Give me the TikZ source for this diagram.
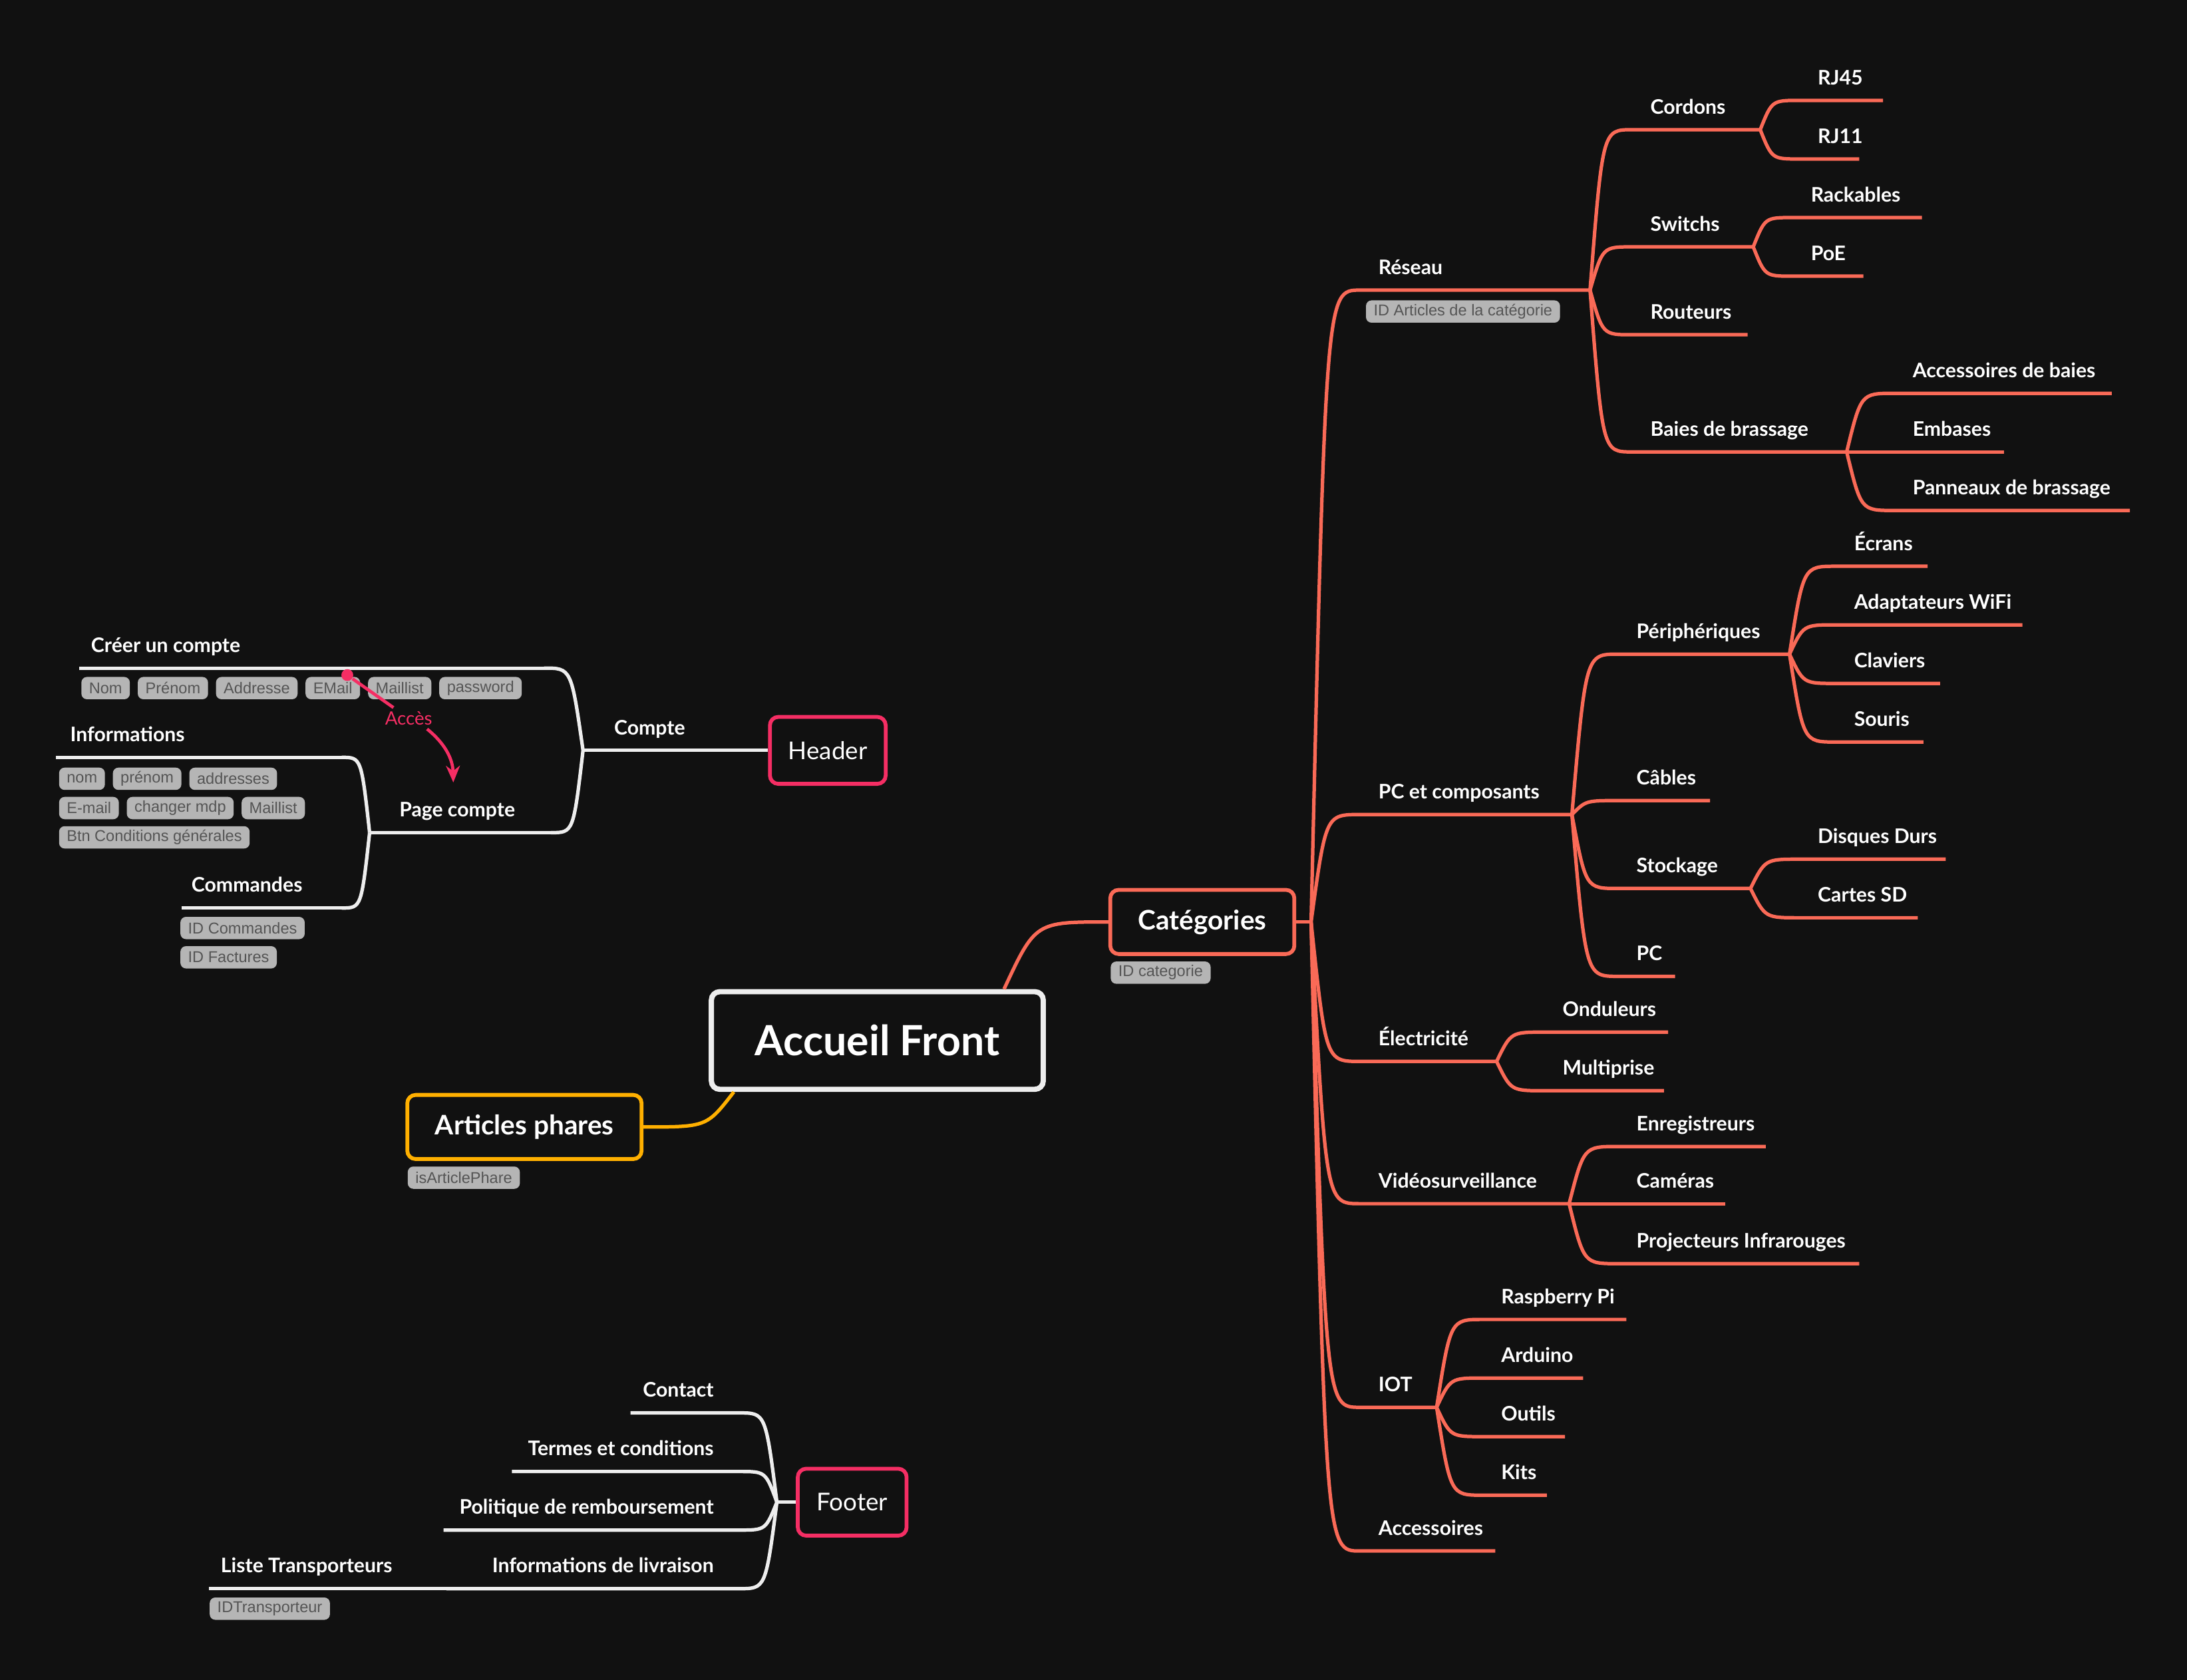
\documentclass[tikz,border=0pt]{standalone}
\usepackage{fontspec}
\setmainfont{Lato}
\newfontfamily\tagfamily{Liberation Sans}
\usetikzlibrary{positioning,arrows.meta,calc}

\definecolor{bg}{HTML}{111111}
\definecolor{coral}{HTML}{FA6A57}
\definecolor{amber}{HTML}{FFB000}
\definecolor{rose}{HTML}{F52E64}
\definecolor{chalk}{HTML}{EEEEEE}
\definecolor{tagfill}{HTML}{B5B5B5}
\definecolor{tagtext}{HTML}{555555}

\tikzset{
  topic/.style={anchor=south west, inner xsep=0.26cm, inner ysep=0pt, text depth=0.22cm, text=white, font=\fontsize{8.2}{10}\selectfont\bfseries},
  topicR/.style={topic, anchor=south east, inner xsep=0.36cm},
  tagbox/.style={anchor=north west, fill=tagfill, text=tagtext, rounded corners=0.08cm, inner xsep=0.11cm, inner ysep=0pt, minimum height=0.32cm, font=\tagfamily\fontsize{6.4}{7}\selectfont},
  topicbox/.style={draw, fill=bg, text=white, rounded corners=0.12cm, line width=0.055cm, inner sep=0pt},
  branch/.style={to path={.. controls ($(\tikztostart |- \tikztotarget)!0.3!(\tikztotarget)$) .. (\tikztotarget)}},
  redline/.style={draw=coral, line width=0.05cm},
  amberline/.style={draw=amber, line width=0.05cm},
  whiteline/.style={draw=chalk, line width=0.05cm},
  roseline/.style={draw=rose, line width=0.045cm},
}

\begin{document}
\begin{tikzpicture}[x=0.02cm, y=-0.02cm]
\path[use as bounding box, fill=bg] (0,0) rectangle (1568,1204.5);

% main topics
\node[topicbox, draw=chalk, line width=0.075cm, minimum width=4.76cm, minimum height=1.4cm, font=\fontsize{17}{20}\selectfont\bfseries] (accueil) at (629,746) {Accueil Front};
\node[topicbox, draw=coral, minimum width=2.64cm, minimum height=0.92cm, font=\fontsize{11}{13}\selectfont\bfseries] (categories) at (862,661) {Catégories};
\node[tagbox] (idcat) at (796,689) {ID categorie};
\node[topicbox, draw=amber, minimum width=3.36cm, minimum height=0.92cm, font=\fontsize{11}{13}\selectfont\bfseries] (articles) at (376,808) {Articles phares};
\node[tagbox] (isphare) at (292,836) {isArticlePhare};
\node[topicbox, draw=rose, minimum width=1.66cm, minimum height=0.96cm, font=\fontsize{10}{12}\selectfont] (header) at (593.5,538) {Header};
\node[topicbox, draw=rose, minimum width=1.56cm, minimum height=0.96cm, font=\fontsize{10}{12}\selectfont] (footer) at (611,1077) {Footer};

\coordinate (accueilN) at ([xshift=-0.6cm]accueil.north east);
\coordinate (accueilS) at ([xshift=0.36cm]accueil.south west);
\draw[redline] (accueilN) to[branch] (categories.west);
\draw[amberline] (accueilS) to[branch] (articles.east);

% Catégories
\coordinate (catF) at (940,661);
\draw[redline] (categories.east) -- (catF);

\node[topic] (reseau) at (975,208) {Réseau};
\draw[redline] (catF) to[branch] (reseau.south west) -- ++(165,0) coordinate (reseauF);
\node[tagbox] (idart) at (979,215) {ID Articles de la catégorie};
\node[topic] (cordons) at (1170,93) {Cordons};
\draw[redline] (reseauF) to[branch] (cordons.south west) -- ++(92,0) coordinate (cordonsF);
\node[topic] (rjqc) at (1290,72) {RJ45};
\draw[redline] (cordonsF) to[branch] (rjqc.south west) -- ++(60,0);
\node[topic] (rjonze) at (1290,114) {RJ11};
\draw[redline] (cordonsF) to[branch] (rjonze.south west) -- ++(43,0);
\node[topic] (switchs) at (1170,177) {Switchs};
\draw[redline] (reseauF) to[branch] (switchs.south west) -- ++(87,0) coordinate (switchsF);
\node[topic] (rackables) at (1285,156) {Rackables};
\draw[redline] (switchsF) to[branch] (rackables.south west) -- ++(93,0);
\node[topic] (poe) at (1285,198) {PoE};
\draw[redline] (switchsF) to[branch] (poe.south west) -- ++(51,0);
\node[topic] (routeurs) at (1170,240) {Routeurs};
\draw[redline] (reseauF) to[branch] (routeurs.south west) -- ++(83,0);
\node[topic] (baies) at (1170,324) {Baies de brassage};
\draw[redline] (reseauF) to[branch] (baies.south west) -- ++(154,0) coordinate (baiesF);
\node[topic] (accbaies) at (1358,282) {Accessoires de baies};
\draw[redline] (baiesF) to[branch] (accbaies.south west) -- ++(156,0);
\node[topic] (embases) at (1358,324) {Embases};
\draw[redline] (baiesF) -- (embases.south west) -- ++(79,0);
\node[topic] (panneaux) at (1358,366) {Panneaux de brassage};
\draw[redline] (baiesF) to[branch] (panneaux.south west) -- ++(169,0);

\node[topic] (pc) at (975,584) {PC et composants};
\draw[redline] (catF) to[branch] (pc.south west) -- ++(152,0) coordinate (pcF);
\node[topic] (periph) at (1160,469) {Périphériques};
\draw[redline] (pcF) to[branch] (periph.south west) -- ++(123,0) coordinate (periphF);
\node[topic] (ecrans) at (1316,406) {Écrans};
\draw[redline] (periphF) to[branch] (ecrans.south west) -- ++(66,0);
\node[topic] (wifi) at (1316,448) {Adaptateurs WiFi};
\draw[redline] (periphF) to[branch] (wifi.south west) -- ++(134,0);
\node[topic] (claviers) at (1316,490) {Claviers};
\draw[redline] (periphF) to[branch] (claviers.south west) -- ++(75,0);
\node[topic] (souris) at (1316,532) {Souris};
\draw[redline] (periphF) to[branch] (souris.south west) -- ++(63,0);
\node[topic] (cables) at (1160,574) {Câbles};
\draw[redline] (pcF) to[branch] (cables.south west) -- ++(66,0);
\node[topic] (stockage) at (1160,637) {Stockage};
\draw[redline] (pcF) to[branch] (stockage.south west) -- ++(95,0) coordinate (stockageF);
\node[topic] (disques) at (1290,616) {Disques Durs};
\draw[redline] (stockageF) to[branch] (disques.south west) -- ++(105,0);
\node[topic] (cartes) at (1290,658) {Cartes SD};
\draw[redline] (stockageF) to[branch] (cartes.south west) -- ++(85,0);
\node[topic] (pcs) at (1160,700) {PC};
\draw[redline] (pcF) to[branch] (pcs.south west) -- ++(41,0);

\node[topic] (elec) at (975,761) {Électricité};
\draw[redline] (catF) to[branch] (elec.south west) -- ++(98,0) coordinate (elecF);
\node[topic] (onduleurs) at (1107,740) {Onduleurs};
\draw[redline] (elecF) to[branch] (onduleurs.south west) -- ++(89,0);
\node[topic] (multiprise) at (1107,782) {Multiprise};
\draw[redline] (elecF) to[branch] (multiprise.south west) -- ++(86,0);

\node[topic] (video) at (975,863) {Vidéosurveillance};
\draw[redline] (catF) to[branch] (video.south west) -- ++(150,0) coordinate (videoF);
\node[topic] (enreg) at (1160,822) {Enregistreurs};
\draw[redline] (videoF) to[branch] (enreg.south west) -- ++(106,0);
\node[topic] (cameras) at (1160,863) {Caméras};
\draw[redline] (videoF) -- (cameras.south west) -- ++(77,0);
\node[topic] (projecteurs) at (1160,906) {Projecteurs Infrarouges};
\draw[redline] (videoF) to[branch] (projecteurs.south west) -- ++(173,0);

\node[topic] (iot) at (975,1009) {IOT};
\draw[redline] (catF) to[branch] (iot.south west) -- ++(55,0) coordinate (iotF);
\node[topic] (raspberry) at (1063,946) {Raspberry Pi};
\draw[redline] (iotF) to[branch] (raspberry.south west) -- ++(103,0);
\node[topic] (arduino) at (1063,988) {Arduino};
\draw[redline] (iotF) to[branch] (arduino.south west) -- ++(72,0);
\node[topic] (outils) at (1063,1030) {Outils};
\draw[redline] (iotF) to[branch] (outils.south west) -- ++(59,0);
\node[topic] (kits) at (1063,1072) {Kits};
\draw[redline] (iotF) to[branch] (kits.south west) -- ++(46,0);

\node[topic] (accessoires) at (975,1112) {Accessoires};
\draw[redline] (catF) to[branch] (accessoires.south west) -- ++(97,0);

% Header
\coordinate (compteF) at (418,538);
\node[topic, inner xsep=0.44cm] (compte) at (compteF) {Compte};
\draw[whiteline] (compteF) -- (header.west);

\node[topic, inner xsep=0.16cm] (creer) at (57,479) {Créer un compte};
\draw[whiteline] (creer.south west) -- ++(333,0) coordinate (creerE);
\draw[whiteline] (compteF) to[branch] (creerE);
\node[tagbox] (nom) at (58,485) {Nom};
\node[tagbox, right=0.1cm of nom] (prenom) {Prénom};
\node[tagbox, right=0.1cm of prenom] (adresse) {Addresse};
\node[tagbox, right=0.1cm of adresse] (email) {EMail};
\node[tagbox, right=0.1cm of email] (maillist) {Maillist};
\node[tagbox, right=0.1cm of maillist] (password) {password};

\coordinate (pageF) at (265,597);
\node[topic, inner xsep=0.42cm] (page) at (pageF) {Page compte};
\draw[whiteline] (pageF) -- ++(130,0) coordinate (pageE);
\draw[whiteline] (compteF) to[branch] (pageE);

\node[topic, inner xsep=0.2cm] (infos) at (40,543) {Informations};
\draw[whiteline] (infos.south west) -- ++(205,0) coordinate (infosE);
\draw[whiteline] (pageF) to[branch] (infosE);
\node[tagbox] (nom2) at (42,550) {nom};
\node[tagbox, right=0.1cm of nom2] (prenom2) {prénom};
\node[tagbox, right=0.1cm of prenom2] (adresses2) {addresses};
\node[tagbox] (email2) at (42,571) {E-mail};
\node[tagbox, right=0.1cm of email2] (mdp2) {changer mdp};
\node[tagbox, right=0.1cm of mdp2] (maillist2) {Maillist};
\node[tagbox] (cgv) at (42,592) {Btn Conditions générales};

\node[topic, inner xsep=0.14cm] (commandes) at (130,651) {Commandes};
\draw[whiteline] (commandes.south west) -- ++(115,0) coordinate (commandesE);
\draw[whiteline] (pageF) to[branch] (commandesE);
\node[tagbox] (idcmd) at (129,657) {ID Commandes};
\node[tagbox] (idfact) at (129,678) {ID Factures};

% relation
\node[circle, fill=rose, inner sep=0pt, minimum size=0.17cm] (accesdot) at (249,484) {};
\node[text=rose, inner sep=0.05cm, font=\fontsize{7.5}{9}\selectfont] (acces) at (293,515) {Accès};
\coordinate (accestip) at (325,561);
\draw[roseline] (accesdot) -- (acces);
\draw[roseline, -{Stealth[length=0.24cm, width=0.2cm]}] (acces) to[bend left=25] (accestip);

% Footer
\coordinate (footerF) at (557,1077);
\draw[whiteline] (footer.west) -- (footerF);
\node[topicR] (contact) at (530,1013) {Contact};
\draw[whiteline] (footerF) to[branch] (contact.south east) -- ++(-78,0);
\node[topicR] (termes) at (530,1055) {Termes et conditions};
\draw[whiteline] (footerF) to[branch] (termes.south east) -- ++(-163,0);
\node[topicR] (politique) at (530,1097) {Politique de remboursement};
\draw[whiteline] (footerF) to[branch] (politique.south east) -- ++(-212,0);
\node[topicR] (livraison) at (530,1139) {Informations de livraison};
\draw[whiteline] (footerF) to[branch] (livraison.south east) -- ++(-210,0) coordinate (livraisonW);
\node[topic, inner xsep=0.16cm] (liste) at (150,1139) {Liste Transporteurs};
\draw[whiteline] (liste.south west) -- (livraisonW);
\node[tagbox] (idtrans) at (150,1145) {IDTransporteur};
\end{tikzpicture}
\end{document}
